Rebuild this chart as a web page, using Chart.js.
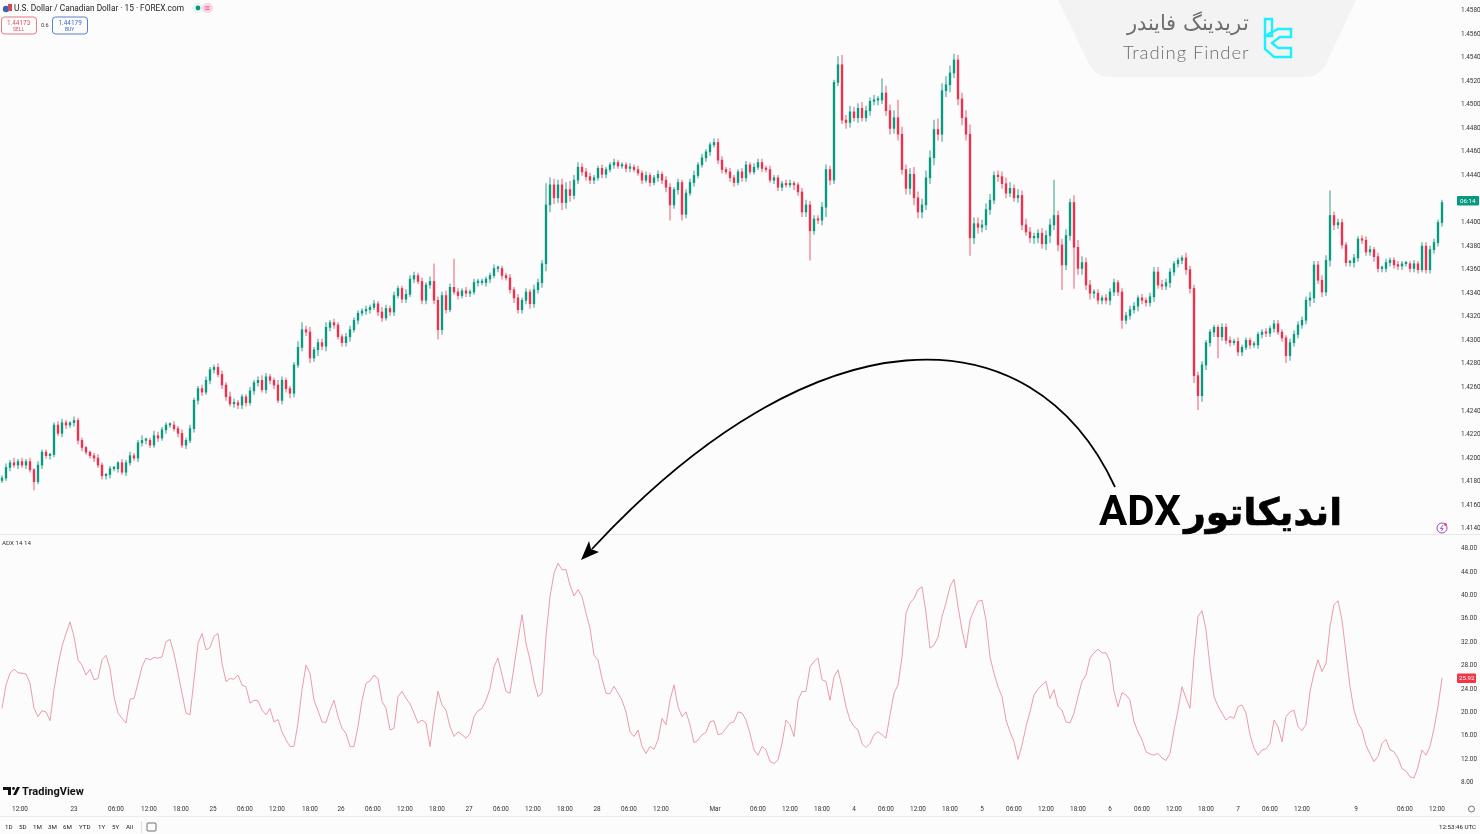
<!DOCTYPE html>
<html><head><meta charset="utf-8">
<script src="https://cdn.jsdelivr.net/npm/chart.js@4/dist/chart.umd.js"></script>
<style>
html,body{margin:0;padding:0;background:#fcfcfc;width:1480px;height:834px;overflow:hidden;font-family:Roboto,"Liberation Sans",sans-serif;}
#c{position:absolute;left:0;top:0;}
.t{position:absolute;white-space:nowrap;line-height:1;color:#222;}
svg{position:absolute;left:0;top:0;pointer-events:none;}
</style></head><body>
<canvas id="c" width="1480" height="834"></canvas>
<svg width="1480" height="834" viewBox="0 0 1480 834">
  <path d="M1058 0 L1356 0 L1327 62 Q1320 77 1305 77 L1110 77 Q1095 77 1088 62 Z" fill="#f3f3f3"/>
  <g fill="none" stroke="#1cf0ff" stroke-width="2.4">
    <path d="M1265 19 H1272 V36 H1265 Z"/>
    <path d="M1265 36 L1278 29 H1291 V37 H1280 L1272 43 L1278 48 H1291 V57 H1274 L1265 49 Z"/>
  </g>
  <path d="M1115 487 C1032 308 815 308 592 549" fill="none" stroke="#000" stroke-width="1.8"/>
  <path d="M581 560 L599 552 L591 549 L589 541 Z" fill="#000"/>
  <g fill="#e8f6f3"><rect x="192" y="3" width="11" height="10" rx="5"/></g>
  <rect x="202" y="3" width="11" height="10" rx="5" fill="#fbd5e2"/>
  <circle cx="198" cy="8" r="2.4" fill="#089981"/>
  <rect x="205" y="6.4" width="4.5" height="1" fill="#e0508a"/><rect x="205" y="8.8" width="4.5" height="1" fill="#e0508a"/>
  <circle cx="6" cy="9" r="3.2" fill="#3a62b5"/><rect x="8" y="4" width="4" height="7" fill="#d8485a"/>
  <rect x="1.5" y="17" width="35" height="17" rx="3" fill="#fcfcfc" stroke="#df6b7c" stroke-width="0.9"/>
  <rect x="52.5" y="17" width="35" height="17" rx="3" fill="#fcfcfc" stroke="#4a72cc" stroke-width="0.9"/>
  <rect x="1457" y="196" width="22" height="9.5" rx="1" fill="#089981"/>
  <rect x="1457" y="673.5" width="19" height="9.5" rx="1" fill="#f23645"/>
  <circle cx="1442" cy="528" r="5" fill="none" stroke="#9c4bc4" stroke-width="1"/>
  <path d="M1443 525 L1440.5 528.5 H1443 L1441.5 531" fill="none" stroke="#9c4bc4" stroke-width="0.9"/>
  <circle cx="1445.5" cy="524.5" r="1.3" fill="#e0364f"/>
  <path d="M3 787 H11 V795 H8 V790 H3 Z M13 795 L17 787 H20 L16 795 Z" fill="#111"/>
  <circle cx="13.5" cy="788.5" r="1.4" fill="#111"/>
  <rect x="0" y="816" width="1480" height="1" fill="#ececec"/>
  <rect x="141" y="821" width="1" height="12" fill="#e0e0e0"/>
  <rect x="147" y="823" width="9" height="8" rx="1" fill="none" stroke="#333" stroke-width="0.7"/>
  <circle cx="1471.5" cy="809" r="3" fill="none" stroke="#555" stroke-width="0.8"/>
</svg>
<div class="t" style="left:14px;top:4px;font-size:8.3px;color:#222">U.S. Dollar / Canadian Dollar · 15 · FOREX.com</div>
<div class="t" style="left:7px;top:19.5px;font-size:6.4px;color:#d9536a">1.44173</div>
<div class="t" style="left:13px;top:27px;font-size:5px;color:#d9536a">SELL</div>
<div class="t" style="left:41px;top:23px;font-size:5.5px;color:#333">0.6</div>
<div class="t" style="left:58.5px;top:19.5px;font-size:6.4px;color:#3f68c4">1.44179</div>
<div class="t" style="left:65px;top:27px;font-size:5px;color:#3f68c4">BUY</div>
<div class="t" style="left:2px;top:540px;font-size:6.2px;color:#333">ADX 14 14</div>
<div class="t" id="wf" style="left:1113px;top:13px;width:136px;text-align:right;direction:rtl;font-size:21px;font-family:'DejaVu Sans';font-weight:200;color:#6e6e6e">تریدینگ فایندر</div>
<div class="t" style="left:1123px;top:43px;font-size:18.5px;font-family:Lato;font-weight:300;letter-spacing:0.9px;color:#6e6e6e">Trading Finder</div>
<div class="t" id="big" style="left:1090px;top:490px;width:252px;text-align:right;direction:rtl;font-size:42px;font-weight:700;font-family:Roboto,'DejaVu Sans';word-spacing:-7px;color:#000"><span style="font-size:37.5px;-webkit-text-stroke:0.7px #000">اندیکاتور</span> ADX</div>
<div class="t" style="left:1460px;top:197.5px;font-size:6.2px;color:#fff">06:14</div>
<div class="t" style="left:1459px;top:675px;font-size:6.2px;color:#fff">25.92</div>
<div class="t" style="left:22px;top:786px;font-size:11px;font-weight:700;color:#111">TradingView</div>
<div class="t" style="left:5px;top:824px;font-size:6.2px;color:#222">1D</div>
<div class="t" style="left:19px;top:824px;font-size:6.2px;color:#222">5D</div>
<div class="t" style="left:33px;top:824px;font-size:6.2px;color:#222">1M</div>
<div class="t" style="left:48px;top:824px;font-size:6.2px;color:#222">3M</div>
<div class="t" style="left:63px;top:824px;font-size:6.2px;color:#222">6M</div>
<div class="t" style="left:79px;top:824px;font-size:6.2px;color:#222">YTD</div>
<div class="t" style="left:98px;top:824px;font-size:6.2px;color:#222">1Y</div>
<div class="t" style="left:112px;top:824px;font-size:6.2px;color:#222">5Y</div>
<div class="t" style="left:126px;top:824px;font-size:6.2px;color:#222">All</div>
<div class="t" style="left:1439px;top:824px;font-size:6.2px;color:#222">12:53:46 UTC</div>
<script>
const firstOpen = 181;
const closes = [
183,192,196,194,197,194,197,190,180,194,
205,202,203,228,221,230,228,230,232,215,
209,205,202,200,194,185,186,191,191,196,
188,196,202,200,213,215,215,211,219,217,
224,228,228,225,221,211,215,225,249,259,
256,266,275,277,271,262,252,246,247,245,
252,247,257,264,266,258,269,266,262,249,
266,259,255,279,294,309,307,285,292,298,
295,311,315,313,303,298,303,309,317,323,
325,326,328,331,324,319,327,324,338,344,
335,339,352,355,350,334,347,350,334,309,
338,326,345,341,338,342,340,341,349,349,
349,352,355,361,361,355,353,343,336,326,
334,341,331,343,349,365,415,432,421,432,
417,428,423,436,447,443,439,436,438,446,
441,445,449,451,448,449,446,447,445,442,
436,440,434,438,441,436,430,415,428,434,
407,425,434,440,449,455,460,466,468,453,
445,443,438,434,443,438,449,443,447,451,
446,445,436,438,430,433,432,433,432,426,
409,415,393,403,402,413,445,436,519,534,
487,485,494,489,497,489,495,503,504,504,
510,495,480,489,475,445,429,441,421,409,
415,438,455,479,475,512,517,527,538,505,
489,475,387,399,396,398,411,419,440,439,
433,425,429,421,423,398,392,387,387,391,
382,389,398,406,381,364,389,417,379,361,
366,347,340,340,334,336,334,341,349,341,
317,321,326,329,336,334,332,337,358,347,
346,349,358,365,368,370,360,344,270,253,
279,298,307,311,303,311,300,298,299,290,
294,300,296,296,305,307,306,310,314,307,
302,287,298,305,313,317,334,336,364,351,
341,368,406,398,400,381,366,366,370,386,
385,375,377,371,361,361,366,368,364,363,
365,365,361,365,360,380,360,377,383,400,
417];
const upperWicks = [
2,3,2,4,2,3,2,3,1,3,
2,2,1,2,3,3,2,1,3,2,
2,1,1,2,3,2,1,2,2,1,
3,2,3,2,2,4,2,2,4,3,
2,2,2,3,2,3,2,3,2,2,
3,3,2,2,3,3,2,4,3,2,
2,2,3,2,3,4,3,2,2,4,
3,2,2,2,5,6,3,4,2,3,
3,4,2,3,2,2,3,3,2,2,
2,3,2,3,2,4,3,2,3,2,
2,4,3,3,2,3,2,4,15,3,
3,4,3,24,3,2,3,2,3,3,
3,2,2,3,2,2,2,3,2,3,
2,3,2,4,3,3,18,6,5,4,
5,6,7,4,4,3,3,3,2,2,
3,2,2,3,2,2,2,3,2,3,
2,3,2,2,3,2,3,3,2,3,
2,3,3,4,2,3,2,2,3,3,
3,2,3,2,2,3,3,2,3,3,
3,2,3,2,2,2,3,3,2,2,
3,4,3,3,3,4,4,3,2,7,
8,4,5,4,4,5,4,3,4,3,
12,6,5,6,15,6,4,5,6,5,
5,6,6,8,9,6,7,6,5,4,
5,6,8,5,5,4,5,5,3,4,
4,5,5,3,5,4,5,4,4,3,
4,4,5,30,4,5,5,3,6,6,
5,4,4,3,3,2,3,3,3,2,
3,3,3,3,2,3,2,3,4,4,
4,3,3,2,2,2,4,3,3,3,
3,2,2,2,2,3,3,3,2,3,
2,2,2,3,2,2,3,2,3,3,
2,2,3,3,3,3,3,5,3,3,
4,4,21,3,3,3,2,2,3,2,
3,3,3,2,3,2,3,2,2,3,
2,2,2,3,2,3,3,3,3,2,
2];
const lowerWicks = [
2,2,3,2,3,2,3,2,7,2,
3,2,3,2,2,3,3,2,3,3,
3,2,2,3,2,3,3,3,2,3,
2,3,2,2,3,3,3,2,2,3,
2,3,2,2,3,2,3,2,3,3,
3,2,3,3,2,3,3,2,3,3,
3,3,2,3,3,2,3,3,3,2,
3,3,4,3,2,3,3,4,3,5,
3,4,3,3,2,3,3,4,2,3,
2,3,3,2,3,3,2,3,3,2,
3,3,2,3,2,3,3,3,3,8,
4,3,2,2,3,2,3,3,2,3,
2,3,3,2,3,3,2,3,4,3,
3,3,4,3,3,4,6,6,5,4,
6,5,5,3,3,3,3,3,3,2,
3,3,2,3,2,2,3,3,2,2,
3,2,3,2,3,3,4,13,3,4,
5,3,2,3,2,2,3,3,2,3,
3,2,3,3,2,3,3,2,2,2,
3,2,2,3,3,3,2,2,4,3,
4,4,25,3,3,4,8,4,3,3,
3,5,4,3,4,3,3,4,3,4,
3,4,5,4,5,4,5,5,6,5,
5,4,5,6,5,6,5,6,4,5,
6,5,15,5,5,4,4,4,3,4,
4,4,3,3,4,4,3,4,5,4,
4,5,6,4,5,21,4,4,35,5,
5,4,5,4,3,3,3,4,3,3,
7,3,3,3,4,3,3,3,4,3,
3,3,4,3,3,3,4,4,6,12,
5,4,3,4,18,3,3,3,2,3,
3,2,3,2,3,3,3,3,3,2,
3,6,4,3,3,3,3,5,4,3,
4,3,5,4,3,3,3,3,4,3,
3,3,3,4,3,3,3,3,3,3,
3,2,3,3,3,2,3,3,3,3,
3];
const adxValues = [
20.7,24.7,26.7,27.4,26.8,26.7,26.6,25.0,20.7,19.3,
20.3,20.1,18.6,23.9,28.1,31.3,33.5,35.5,33.0,29.0,
28.1,26.4,27.4,25.6,25.8,29.0,29.8,27.5,22.7,19.9,
19.0,18.2,22.3,22.4,25.0,27.8,29.3,29.0,29.4,29.3,
29.5,32.1,32.5,30.1,26.7,23.3,19.9,19.6,25.6,31.8,
33.5,30.7,31.1,33.0,33.5,28.4,25.3,25.8,25.7,26.4,
24.7,24.4,21.6,22.1,22.0,20.4,19.6,20.7,18.4,18.8,
16.7,15.3,14.2,14.2,18.2,23.9,28.1,26.7,22.1,20.3,
18.4,18.3,20.4,22.1,19.3,17.3,16.4,14.2,14.2,17.6,
22.1,25.0,25.4,26.4,25.8,21.9,20.7,17.0,17.3,22.7,
23.6,22.4,21.5,19.9,18.2,18.7,18.2,14.2,19.3,23.6,
21.3,20.4,17.6,15.9,16.7,16.2,15.6,16.4,19.3,20.3,
20.7,22.1,24.1,27.8,29.3,26.4,23.6,23.3,27.8,32.4,
36.7,31.8,29.0,25.3,22.7,23.3,33.0,39.8,43.8,45.5,
44.4,44.4,41.8,39.9,41.0,39.8,37.0,34.4,29.8,29.0,
25.8,23.3,23.2,24.5,23.3,22.1,20.1,16.7,15.9,17.0,
14.2,13.0,14.2,13.7,15.3,19.0,17.9,22.1,24.7,21.0,
19.3,20.1,17.9,14.8,15.3,16.2,16.6,18.4,18.6,16.2,
16.4,17.3,18.2,18.4,20.1,19.9,18.7,16.4,13.6,12.7,
14.2,13.6,11.6,11.3,11.9,14.7,18.7,17.9,15.9,22.1,
23.6,23.6,27.8,28.7,29.3,25.6,25.3,22.1,26.1,27.3,
24.4,21.0,18.7,17.6,17.0,14.7,14.0,14.7,16.2,16.7,
16.2,15.6,19.6,23.3,24.7,29.5,37.0,38.7,39.5,41.0,
41.5,37.0,31.0,31.5,32.9,36.4,38.7,41.5,42.8,38.1,
34.1,31.0,35.8,37.5,39.0,39.2,35.8,29.5,26.7,24.4,
22.7,18.7,16.7,15.0,12.0,14.4,17.6,20.1,23.0,24.0,
24.7,25.3,22.4,23.9,21.0,20.4,18.4,18.2,19.9,22.7,
25.3,26.4,29.3,30.2,30.8,30.2,30.2,28.7,23.6,21.0,
23.4,23.0,22.1,18.4,16.7,15.3,13.3,12.9,12.7,13.0,
12.2,11.8,13.0,17.0,20.4,24.4,22.4,20.7,29.5,36.4,
37.4,34.1,27.8,22.7,21.1,19.9,18.7,19.3,19.0,21.0,
21.3,19.9,16.2,13.9,12.7,13.6,13.8,14.7,18.7,17.6,
15.0,19.3,20.1,20.4,17.6,16.9,17.9,23.6,26.7,29.0,
27.0,28.4,34.7,38.4,39.1,35.8,30.1,24.4,20.4,18.2,
17.0,14.4,12.9,11.6,12.5,14.7,15.4,13.6,13.3,12.2,
10.4,10.0,9.0,8.8,10.7,13.6,12.7,14.2,17.3,21.0,
25.92];
const priceTicks = [1.458,1.456,1.454,1.452,1.450,1.448,1.446,1.444,1.440,1.438,1.436,1.434,1.432,1.430,1.428,1.426,1.424,1.422,1.420,1.418,1.416,1.414];
const adxTicks = [48,44,40,36,32,28,24,20,16,12,8];
const timeLabels = ['12:00','23','06:00','12:00','18:00','25','06:00','12:00','18:00','26','06:00','12:00','18:00','27','06:00','12:00','18:00','28','06:00','12:00','Mar','06:00','12:00','18:00','4','06:00','12:00','18:00','5','06:00','12:00','18:00','6','06:00','12:00','18:00','7','06:00','12:00','9','06:00','12:00'];
const timeBins = [4.5,18,28.5,36.75,44.75,52.75,60.75,68.75,77,84.75,92.75,100.75,108.75,116.75,124.75,132.75,140.75,148.75,156.75,164.75,178.25,189,197,205,213,221,229,237,245,253,261,269,277,285,293,301,309,317,325,338.5,350.75,358.75];

const toPrice = p => 1.4 + p/10000;
const opens = closes.map((c,i)=> i===0 ? firstOpen : closes[i-1]);
const up = closes.map((c,i)=> c>=opens[i]);
const bodyData = closes.map((c,i)=>({x:i,y:[toPrice(opens[i]),toPrice(c)]}));
const wickData = closes.map((c,i)=>({x:i,y:[toPrice(Math.min(c,opens[i])-lowerWicks[i]),toPrice(Math.max(c,opens[i])+upperWicks[i])]}));
const adxData = adxValues.map((v,i)=>({x:i,y:v}));
const GREEN='#089981', RED='#ef2f4c', GREENW='#7cc4b6', REDW='#f39aa8';

const separator = {id:'separator',afterDraw(ch){
  const y=Math.round(ch.scales.yA.top)+0.5,c=ch.ctx;c.save();c.strokeStyle='#e8e8e8';c.lineWidth=1;
  c.beginPath();c.moveTo(0,y);c.lineTo(1480,y);c.stroke();c.restore();}};

const tickFont={size:6.4,family:'Roboto'};
new Chart(document.getElementById('c'),{
  type:'bar',
  data:{datasets:[
    {type:'bar',label:'wick',data:wickData,xAxisID:'x',yAxisID:'yP',barThickness:1,grouped:false,order:3,minBarLength:1,
      backgroundColor:up.map(u=>u?GREENW:REDW)},
    {type:'bar',label:'body',data:bodyData,xAxisID:'x',yAxisID:'yP',barThickness:1.7,grouped:false,order:2,minBarLength:1.5,
      backgroundColor:up.map(u=>u?GREEN:RED)},
    {type:'line',label:'ADX',data:adxData,xAxisID:'x',yAxisID:'yA',borderColor:'#e58b9c',borderWidth:0.85,pointRadius:0,tension:0,order:1}
  ]},
  options:{
    responsive:false,animation:false,devicePixelRatio:1,
    layout:{padding:0},
    plugins:{legend:{display:false},tooltip:{enabled:false}},
    scales:{
      x:{type:'linear',min:-0.5,max:361.75,offset:false,grid:{display:false,drawTicks:false},border:{display:false},
        afterBuildTicks(s){s.ticks=timeBins.map(v=>({value:v}));},
        ticks:{autoSkip:false,maxRotation:0,minRotation:0,padding:2,color:'#333',font:tickFont,
          callback(v){const i=timeBins.indexOf(v);return i>=0?timeLabels[i]:'';}},
        afterFit(s){s.height=30;s.paddingLeft=0;s.paddingRight=0;}},
      yP:{type:'linear',position:'right',stack:'y',stackWeight:534,min:1.41355,max:1.4589,
        grid:{display:false,drawTicks:false},border:{display:false},
        afterBuildTicks(s){s.ticks=priceTicks.map(v=>({value:v}));},
        ticks:{padding:12,color:'#333',font:tickFont,autoSkip:false,callback:v=>v.toFixed(4)},
        afterFit(s){s.width=31;s.paddingTop=0;s.paddingBottom=0;}},
      yA:{type:'linear',position:'right',stack:'y',stackWeight:270,min:4.36,max:50.51,
        grid:{display:false,drawTicks:false},border:{display:false},
        afterBuildTicks(s){s.ticks=adxTicks.map(v=>({value:v}));},
        ticks:{padding:12,color:'#333',font:tickFont,autoSkip:false,callback:v=>v.toFixed(2)},
        afterFit(s){s.width=31;s.paddingTop=0;s.paddingBottom=0;}}
    }
  },
  plugins:[separator]
});
</script>
</body></html>
